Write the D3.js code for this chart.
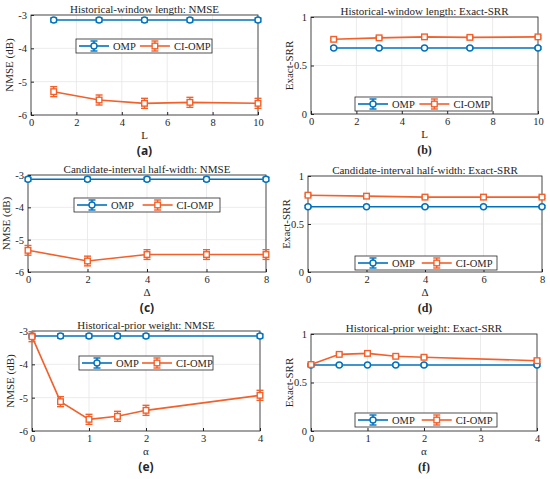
<!DOCTYPE html>
<html>
<head>
<meta charset="utf-8">
<script src="https://cdn.jsdelivr.net/npm/d3@7"></script>
<style>
  body { margin: 0; background: #fff; }
  text { font-family: "Liberation Serif", "DejaVu Serif", serif; fill: #262626; }
</style>
</head>
<body>
<div id="chart"></div>
<script>
// data
var lenX = [1, 3, 5, 7, 10];
var lenOmpNmse = [-3.15, -3.15, -3.15, -3.15, -3.15];
var lenCiNmse = [-5.3, -5.55, -5.65, -5.62, -5.65];
var lenOmpSrr = [0.68, 0.68, 0.68, 0.68, 0.68];
var lenCiSrr = [0.77, 0.785, 0.795, 0.79, 0.795];

var deltaX = [0, 2, 4, 6, 8];
var deltaOmpNmse = [-3.13, -3.13, -3.13, -3.13, -3.13];
var deltaCiNmse = [-5.33, -5.66, -5.46, -5.46, -5.46];
var deltaOmpSrr = [0.68, 0.68, 0.68, 0.68, 0.68];
var deltaCiSrr = [0.80, 0.79, 0.78, 0.78, 0.78];

var alphaX = [0, 0.5, 1, 1.5, 2, 4];
var alphaOmpNmse = [-3.15, -3.15, -3.15, -3.15, -3.15, -3.15];
var alphaCiNmse = [-3.17, -5.12, -5.65, -5.56, -5.38, -4.93];
var alphaOmpSrr = [0.68, 0.68, 0.68, 0.68, 0.68, 0.68];
var alphaCiSrr = [0.685, 0.79, 0.80, 0.77, 0.76, 0.725];

var nmseErrOmp = 0.06, nmseErrCi = 0.15, srrErr = 0.012;

var nmseTicks = [-6, -5, -4, -3];
var srrTicks = [0, 0.5, 1];

var blue = "#0072BD", orange = "#F4602A";
var serif = "'Liberation Serif', 'DejaVu Serif', serif";

var svg = d3.select("#chart").append("svg")
  .attr("width", 550)
  .attr("height", 479);

function panel(p) {
  var x = d3.scaleLinear().domain(p.xDomain).range([p.l, p.r]);
  var y = d3.scaleLinear().domain(p.yDomain).range([p.b, p.t]);
  var g = svg.append("g");

  // grid
  g.selectAll(".gx").data(p.xTicks).enter().append("line")
    .attr("x1", d => x(d)).attr("x2", d => x(d))
    .attr("y1", p.t).attr("y2", p.b)
    .attr("stroke", "#e6e6e6").attr("stroke-width", 0.8);
  g.selectAll(".gy").data(p.yTicks).enter().append("line")
    .attr("x1", p.l).attr("x2", p.r)
    .attr("y1", d => y(d)).attr("y2", d => y(d))
    .attr("stroke", "#e6e6e6").attr("stroke-width", 0.8);

  // axes
  var xAxis = d3.axisBottom(x).tickValues(p.xTicks).tickSize(-3).tickPadding(4).tickFormat(d3.format("~g"));
  var yAxis = d3.axisLeft(y).tickValues(p.yTicks).tickSize(-3).tickPadding(4).tickFormat(d => d3.format("~g")(d).replace("−", "-"));
  var gx = g.append("g").attr("transform", `translate(0,${p.b})`).call(xAxis);
  var gy = g.append("g").attr("transform", `translate(${p.l},0)`).call(yAxis);
  [gx, gy].forEach(function(a) {
    a.attr("font-family", serif);
    a.selectAll("text").attr("font-size", 10.5).attr("fill", "#262626").style("font-family", serif);
    a.selectAll("line").attr("stroke", "#262626");
    a.select(".domain").remove();
  });
  g.append("rect")
    .attr("x", p.l).attr("y", p.t)
    .attr("width", p.r - p.l).attr("height", p.b - p.t)
    .attr("fill", "none").attr("stroke", "#262626").attr("stroke-width", 0.8);

  // series
  function series(vals, err, color, marker) {
    var pts = p.xs.map((d, i) => ({ x: d, y: vals[i] }));
    g.append("path").datum(pts)
      .attr("fill", "none").attr("stroke", color).attr("stroke-width", 1.6)
      .attr("d", d3.line().x(d => x(d.x)).y(d => y(d.y)));
    var e = g.selectAll(null).data(pts).enter().append("g");
    e.append("line")
      .attr("x1", d => x(d.x)).attr("x2", d => x(d.x))
      .attr("y1", d => y(d.y - err)).attr("y2", d => y(d.y + err))
      .attr("stroke", color).attr("stroke-width", 1.4);
    [-err, err].forEach(function(o) {
      e.append("line")
        .attr("x1", d => x(d.x) - 3.5).attr("x2", d => x(d.x) + 3.5)
        .attr("y1", d => y(d.y + o)).attr("y2", d => y(d.y + o))
        .attr("stroke", color).attr("stroke-width", 1.4);
    });
    if (marker === "circle") {
      e.append("circle")
        .attr("cx", d => x(d.x)).attr("cy", d => y(d.y)).attr("r", 3)
        .attr("fill", "#fff").attr("stroke", color).attr("stroke-width", 1.4);
    } else {
      e.append("rect")
        .attr("x", d => x(d.x) - 2.8).attr("y", d => y(d.y) - 2.8)
        .attr("width", 5.6).attr("height", 5.6)
        .attr("fill", "#fff").attr("stroke", color).attr("stroke-width", 1.4);
    }
  }
  series(p.omp, p.ompErr, blue, "circle");
  series(p.ci, p.ciErr, orange, "square");

  // titles
  g.append("text").attr("x", (p.l + p.r) / 2).attr("y", p.t - 2)
    .attr("text-anchor", "middle").attr("font-size", 11).text(p.title);
  g.append("text").attr("x", (p.l + p.r) / 2).attr("y", p.b + 24)
    .attr("text-anchor", "middle").attr("font-size", 11).text(p.xlabel);
  g.append("text")
    .attr("transform", `translate(${p.l - 18},${(p.t + p.b) / 2}) rotate(-90)`)
    .attr("text-anchor", "middle").attr("font-size", 11).text(p.ylabel);
  g.append("text").attr("x", (p.l + p.r) / 2).attr("y", p.b + 40)
    .attr("text-anchor", "middle").attr("font-size", 12).attr("font-weight", "bold")
    .style("font-family", p.tagSans ? "'Noto Sans', sans-serif" : null)
    .text(p.tag);

  // legend
  var L = p.legend;
  var lg = g.append("g").attr("transform", `translate(${L.x},${L.y})`);
  lg.append("rect").attr("width", L.w).attr("height", 14)
    .attr("fill", "#fff").attr("stroke", "#262626").attr("stroke-width", 0.8);
  var items = [
    { name: "OMP", color: blue, marker: "circle", x0: 3 },
    { name: "CI-OMP", color: orange, marker: "square", x0: L.w * 0.47 }
  ];
  items.forEach(function(it) {
    var cx = it.x0 + 15;
    lg.append("line").attr("x1", it.x0).attr("x2", it.x0 + 30).attr("y1", 7).attr("y2", 7)
      .attr("stroke", it.color).attr("stroke-width", 1.6);
    lg.append("line").attr("x1", cx).attr("x2", cx).attr("y1", 2).attr("y2", 12)
      .attr("stroke", it.color).attr("stroke-width", 1.4);
    [2, 12].forEach(function(yy) {
      lg.append("line").attr("x1", cx - 3.5).attr("x2", cx + 3.5).attr("y1", yy).attr("y2", yy)
        .attr("stroke", it.color).attr("stroke-width", 1.4);
    });
    if (it.marker === "circle") {
      lg.append("circle").attr("cx", cx).attr("cy", 7).attr("r", 3)
        .attr("fill", "#fff").attr("stroke", it.color).attr("stroke-width", 1.4);
    } else {
      lg.append("rect").attr("x", cx - 2.8).attr("y", 4.2).attr("width", 5.6).attr("height", 5.6)
        .attr("fill", "#fff").attr("stroke", it.color).attr("stroke-width", 1.4);
    }
    lg.append("text").attr("x", it.x0 + 34).attr("y", 10.8)
      .attr("font-size", 10.5).text(it.name);
  });
}

panel({ l: 31, r: 258, t: 15, b: 115, xDomain: [0, 10], xTicks: [0, 2, 4, 6, 8, 10],
  yDomain: [-6, -3], yTicks: nmseTicks, xs: lenX,
  omp: lenOmpNmse, ompErr: nmseErrOmp, ci: lenCiNmse, ciErr: nmseErrCi,
  title: "Historical-window length: NMSE", xlabel: "L", ylabel: "NMSE (dB)", tag: "(a)", tagSans: true,
  legend: { x: 76, y: 39, w: 136 } });

panel({ l: 311, r: 538, t: 17, b: 114, xDomain: [0, 10], xTicks: [0, 2, 4, 6, 8, 10],
  yDomain: [0, 1], yTicks: srrTicks, xs: lenX,
  omp: lenOmpSrr, ompErr: srrErr, ci: lenCiSrr, ciErr: srrErr,
  title: "Historical-window length: Exact-SRR", xlabel: "L", ylabel: "Exact-SRR", tag: "(b)",
  legend: { x: 355, y: 97, w: 137 } });

panel({ l: 28, r: 266, t: 175, b: 272, xDomain: [0, 8], xTicks: [0, 2, 4, 6, 8],
  yDomain: [-6, -3], yTicks: nmseTicks, xs: deltaX,
  omp: deltaOmpNmse, ompErr: nmseErrOmp, ci: deltaCiNmse, ciErr: nmseErrCi,
  title: "Candidate-interval half-width: NMSE", xlabel: "Δ", ylabel: "NMSE (dB)", tag: "(c)", tagSans: true,
  legend: { x: 74, y: 198, w: 146 } });

panel({ l: 308, r: 542, t: 176, b: 272, xDomain: [0, 8], xTicks: [0, 2, 4, 6, 8],
  yDomain: [0, 1], yTicks: srrTicks, xs: deltaX,
  omp: deltaOmpSrr, ompErr: srrErr, ci: deltaCiSrr, ciErr: srrErr,
  title: "Candidate-interval half-width: Exact-SRR", xlabel: "Δ", ylabel: "Exact-SRR", tag: "(d)",
  legend: { x: 355, y: 256, w: 142 } });

panel({ l: 32, r: 260, t: 331, b: 431, xDomain: [0, 4], xTicks: [0, 1, 2, 3, 4],
  yDomain: [-6, -3], yTicks: nmseTicks, xs: alphaX,
  omp: alphaOmpNmse, ompErr: nmseErrOmp, ci: alphaCiNmse, ciErr: nmseErrCi,
  title: "Historical-prior weight: NMSE", xlabel: "α", ylabel: "NMSE (dB)", tag: "(e)", tagSans: true,
  legend: { x: 79, y: 356, w: 134 } });

panel({ l: 311, r: 537, t: 334, b: 431, xDomain: [0, 4], xTicks: [0, 1, 2, 3, 4],
  yDomain: [0, 1], yTicks: srrTicks, xs: alphaX,
  omp: alphaOmpSrr, ompErr: srrErr, ci: alphaCiSrr, ciErr: srrErr,
  title: "Historical-prior weight: Exact-SRR", xlabel: "α", ylabel: "Exact-SRR", tag: "(f)",
  legend: { x: 355, y: 413, w: 142 } });
</script>
</body>
</html>
